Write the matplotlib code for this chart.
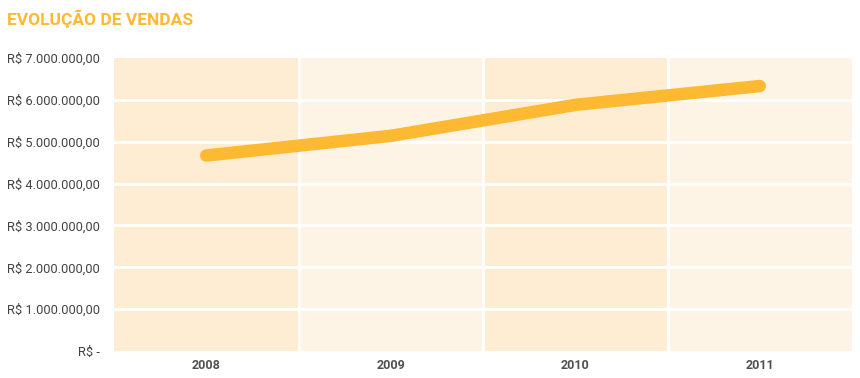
import matplotlib.pyplot as plt

# dados
anos = ["2008", "2009", "2010", "2011"]
vendas = [4670000, 5140000, 5880000, 6330000]
yticks = [0, 1000000, 2000000, 3000000, 4000000, 5000000, 6000000, 7000000]
ytick_labels = ["R$ -", "R$ 1.000.000,00", "R$ 2.000.000,00", "R$ 3.000.000,00",
                "R$ 4.000.000,00", "R$ 5.000.000,00", "R$ 6.000.000,00", "R$ 7.000.000,00"]

plt.rcParams['font.family'] = ['Roboto', 'DejaVu Sans']

fig = plt.figure(figsize=(8.6, 3.78), dpi=100)
ax = fig.add_axes([114/860, 27/378, (852-114)/860, (351-58)/378])

x = list(range(len(anos)))

# faixas alternadas
band_colors = ["#feedd3", "#fef4e6"]
for i in x:
    ax.axvspan(i - 0.5, i + 0.5, color=band_colors[i % 2], lw=0, zorder=0)

# grade branca
for v in yticks[1:-1]:
    ax.axhline(v, color="white", lw=2, zorder=1)
for i in x[:-1]:
    ax.axvline(i + 0.5, color="white", lw=2, zorder=1)

ax.plot(x, vendas, color="#fdb931", lw=9, solid_capstyle="round",
        solid_joinstyle="round", zorder=3)

ax.set_xlim(-0.5, len(anos) - 0.5)
ax.set_ylim(0, 7000000)
ax.set_yticks(yticks)
ax.set_yticklabels(ytick_labels, fontsize=9.3, color="#444444")
ax.set_xticks(x)
ax.set_xticklabels(anos, fontsize=9, fontweight="bold", color="#505050")
ax.tick_params(axis="both", length=0)
ax.tick_params(axis="y", pad=10)
ax.tick_params(axis="x", pad=6)
for s in ax.spines.values():
    s.set_visible(False)

fig.text(7/860, 1 - 19/378, "EVOLUÇÃO DE VENDAS", fontsize=12.5, fontweight="bold",
         color="#fdb931", va="center", ha="left")

fig.savefig("out.png", dpi=100)
